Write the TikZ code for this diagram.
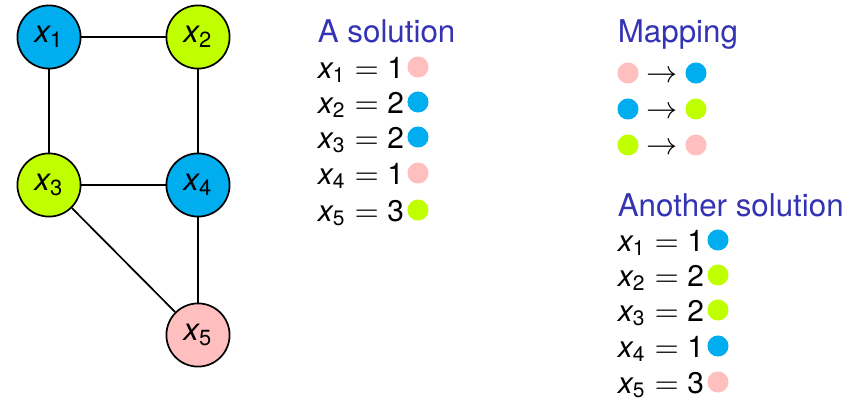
\documentclass[tikz,border=0pt]{standalone}
\usepackage{fontspec}
\setmainfont{TeX Gyre Heros}
\definecolor{cblue}{RGB}{0,174,239}
\definecolor{cgreen}{RGB}{192,255,0}
\definecolor{cpink}{RGB}{255,191,191}
\definecolor{ctitle}{RGB}{51,51,179}
\newcommand{\xvar}[1]{\mathit{x}_{\mathrm{#1}}}
\begin{document}
\begin{tikzpicture}[
    x=0.01235cm, y=-0.01235cm,
    every node/.style={font=\fontsize{11}{13}\selectfont},
    vertex/.style={circle, draw, semithick, minimum size=0.78cm, inner sep=0pt},
    dot/.style={circle, fill=#1, minimum size=0.26cm, inner sep=0pt},
    title/.style={anchor=base west, text=ctitle, inner sep=0pt},
    eq/.style={anchor=base west, inner sep=0pt, font=\fontsize{10.5}{13}\selectfont},
    semithick
]
    \useasboundingbox (0,0) rectangle (867,400);

    % Vertices del grafo
    \node[vertex, fill=cblue]  (x1) at (49,37)  {$\xvar{1}$};
    \node[vertex, fill=cgreen] (x2) at (198,37) {$\xvar{2}$};
    \node[vertex, fill=cgreen] (x3) at (49,185) {$\xvar{3}$};
    \node[vertex, fill=cblue]  (x4) at (198,185) {$\xvar{4}$};
    \node[vertex, fill=cpink]  (x5) at (198,335) {$\xvar{5}$};

    % Aristas
    \draw (x1) -- (x2);
    \draw (x1) -- (x3);
    \draw (x2) -- (x4);
    \draw (x3) -- (x4);
    \draw (x3) -- (x5);
    \draw (x4) -- (x5);

    % Primera solucion
    \node[title] (sol) at (317,42) {A solution};
    \foreach \i/\v/\c/\y in {1/1/cpink/67, 2/2/cblue/102, 3/2/cblue/137, 4/1/cpink/173, 5/3/cgreen/210}{
        \node[eq] (a\i) at (317,\y+11) {$\xvar{\i} = \mathrm{\v}$};
        \node[dot=\c] (ad\i) at (418,\y) {};
    }

    % Permutacion de colores
    \node[title] (map) at (617,42) {Mapping};
    \foreach \i/\a/\b/\y in {1/cpink/cblue/73, 2/cblue/cgreen/109, 3/cgreen/cpink/145}{
        \node[dot=\a] (ma\i) at (628,\y) {};
        \node[dot=\b] (mb\i) at (696,\y) {};
        \node (mt\i) at (662,\y+4) {$\to$};
    }

    % Segunda solucion
    \node[title] (oth) at (617,216) {Another solution};
    \foreach \i/\v/\c/\y in {1/1/cblue/240, 2/2/cgreen/275, 3/2/cgreen/310, 4/1/cblue/346, 5/3/cpink/382}{
        \node[eq] (b\i) at (617,\y+11) {$\xvar{\i} = \mathrm{\v}$};
        \node[dot=\c] (bd\i) at (718,\y) {};
    }
\end{tikzpicture}
\end{document}
